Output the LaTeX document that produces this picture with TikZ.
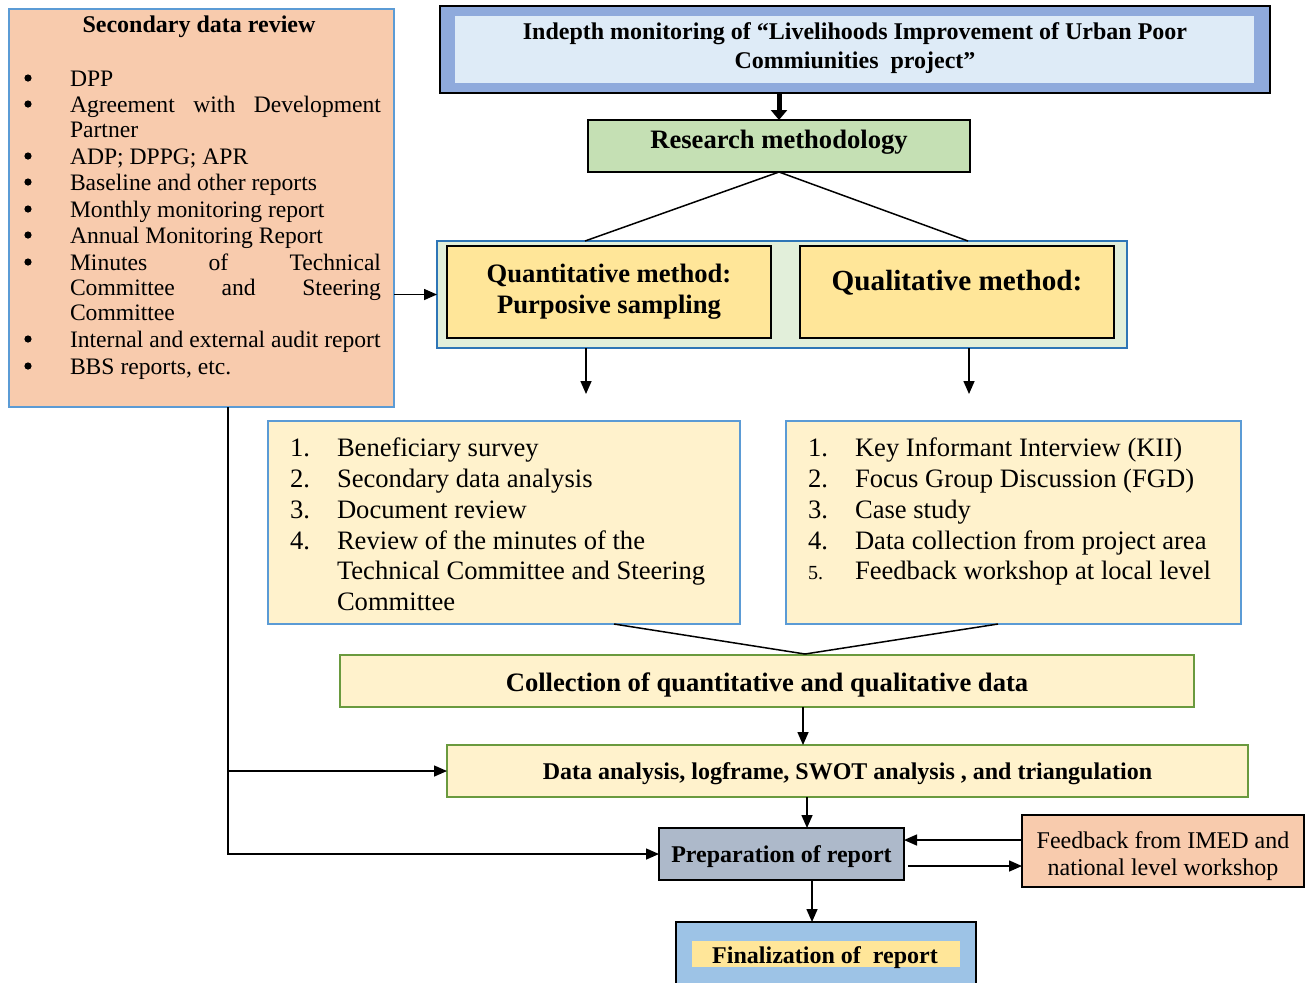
\documentclass[tikz,border=0pt]{standalone}
\usepackage{fontspec}
\setmainfont{Liberation Serif}
\usetikzlibrary{arrows.meta}
\definecolor{peach}{HTML}{F8CBAD}
\definecolor{bordblue}{HTML}{5B9BD5}
\definecolor{topblue}{HTML}{8FAADC}
\definecolor{toplight}{HTML}{DEEBF7}
\definecolor{resgreen}{HTML}{C5E0B4}
\definecolor{contgreen}{HTML}{E2EFDA}
\definecolor{contblue}{HTML}{2E75B6}
\definecolor{goldy}{HTML}{FFE699}
\definecolor{lighty}{HTML}{FFF2CC}
\definecolor{olivebord}{HTML}{6A9A3E}
\definecolor{prepgray}{HTML}{ADB9CA}
\definecolor{finblue}{HTML}{9DC3E6}
\newcommand\fsBody{\fontsize{11.8pt}{13.25pt}\selectfont}
\newcommand\fsHead{\fontsize{12pt}{14.5pt}\selectfont}
\newcommand\fsBig{\fontsize{13.3pt}{15.5pt}\selectfont}
\newcommand\fsQual{\fontsize{14.6pt}{17pt}\selectfont}
\newcommand\fsList{\fontsize{13.3pt}{15.5pt}\selectfont}
\begin{document}
\begin{tikzpicture}[x=0.5pt,y=-0.5pt,
  every node/.style={inner sep=0pt,outer sep=0pt},
  arr/.style={-{Triangle[length=6.5pt,width=5.5pt]},line width=0.75pt},
  ln/.style={line width=0.75pt},
  txt/.style={anchor=base west,font=\fsBody},
  bul/.style={circle,fill=black,minimum size=3.6pt},
  lst/.style={anchor=base west,font=\fsList},
  hd/.style={anchor=base,font=\fsHead\bfseries},
  bk/.style={draw=black,line width=0.9pt},
  ybox/.style={draw=olivebord,line width=1pt,fill=lighty},
  lbox/.style={draw=bordblue,line width=1pt,fill=lighty}]
\clip (0,0) rectangle (1310,982);

% ---------- left box ----------
\node[draw=bordblue,line width=1pt,fill=peach,minimum width=192.5pt,minimum height=199pt] (sdr) at (201.5,208) {};
\node[hd] (sdrt) at (199,32) {Secondary data review};
\node[txt] (l1) at (70,86) {DPP};
\node[txt] (l2) at (70,112) {\makebox[155.5pt][s]{Agreement\hfill with\hfill Development}};
\node[txt] (l3) at (70,137) {Partner};
\node[txt] (l4) at (70,164) {ADP; DPPG; APR};
\node[txt] (l5) at (70,190) {Baseline and other reports};
\node[txt] (l6) at (70,217) {Monthly monitoring report};
\node[txt] (l7) at (70,243) {Annual Monitoring Report};
\node[txt] (l8) at (70,270) {\makebox[155.5pt][s]{Minutes\hfill of\hfill Technical}};
\node[txt] (l9) at (70,295) {\makebox[155.5pt][s]{Committee\hfill and\hfill Steering}};
\node[txt] (l10) at (70,320) {Committee};
\node[txt] (l11) at (70,347) {Internal and external audit report};
\node[txt] (l12) at (70,374) {BBS reports, etc.};
\foreach \yy/\nm in {78/b1,104/b2,156/b4,182/b5,209/b6,235/b7,262/b8,339/b11,366/b12}
  \node[bul] (\nm) at (28,\yy) {};

% ---------- top box ----------
\node[bk,fill=topblue,minimum width=415pt,minimum height=43.5pt] (top) at (855,49.5) {};
\node[fill=toplight,minimum width=399.5pt,minimum height=33.5pt] (topin) at (854.5,49.5) {};
\node[hd] (topt1) at (855,39) {Indepth monitoring of “Livelihoods Improvement of Urban Poor};
\node[hd] (topt2) at (855,68) {Commiunities\ \ project”};

% ---------- research ----------
\node[bk,fill=resgreen,minimum width=191pt,minimum height=26pt] (res) at (779,146) {};
\node[anchor=base,font=\fsBig\bfseries] (rest) at (779,148) {Research methodology};

% ---------- methods ----------
\node[draw=contblue,line width=0.8pt,fill=contgreen,minimum width=345pt,minimum height=53.5pt] (cont) at (782,294.5) {};
\node[bk,fill=goldy,minimum width=162pt,minimum height=46pt] (quant) at (609,292) {};
\node[bk,fill=goldy,minimum width=157pt,minimum height=46pt] (qual) at (957,292) {};
\node[anchor=base,font=\fsBig\bfseries] (quantt1) at (609,282) {Quantitative method:};
\node[anchor=base,font=\fsBig\bfseries] (quantt2) at (609,313) {Purposive sampling};
\node[anchor=base,font=\fsQual\bfseries] (qualt) at (957,290) {Qualitative method:};

% ---------- lists ----------
\node[lbox,minimum width=236pt,minimum height=101.5pt] (qnl) at (504,522.5) {};
\node[lbox,minimum width=227.5pt,minimum height=101.5pt] (qll) at (1013.5,522.5) {};
\node[lst] (qn1n) at (290,456) {1.};
\node[lst] (qn1) at (337,456) {Beneficiary survey};
\node[lst] (qn2n) at (290,487) {2.};
\node[lst] (qn2) at (337,487) {Secondary data analysis};
\node[lst] (qn3n) at (290,518) {3.};
\node[lst] (qn3) at (337,518) {Document review};
\node[lst] (qn4n) at (290,549) {4.};
\node[lst] (qn4) at (337,549) {Review of the minutes of the};
\node[lst] (qn5) at (337,579) {Technical Committee and Steering};
\node[lst] (qn6) at (337,610) {Committee};
\node[lst] (ql1n) at (808,456) {1.};
\node[lst] (ql1) at (855,456) {Key Informant Interview (KII)};
\node[lst] (ql2n) at (808,487) {2.};
\node[lst] (ql2) at (855,487) {Focus Group Discussion (FGD)};
\node[lst] (ql3n) at (808,518) {3.};
\node[lst] (ql3) at (855,518) {Case study};
\node[lst] (ql4n) at (808,549) {4.};
\node[lst] (ql4) at (855,549) {Data collection from project area};
\node[anchor=base west,font=\fontsize{10pt}{12pt}\selectfont] (ql5n) at (808,579) {5.};
\node[lst] (ql5) at (855,579) {Feedback workshop at local level};

% ---------- collection / analysis ----------
\node[ybox,minimum width=427pt,minimum height=26pt] (coll) at (767,681) {};
\node[anchor=base,font=\fsBig\bfseries] (collt) at (767,691) {Collection of quantitative and qualitative data};
\node[ybox,minimum width=400.5pt,minimum height=26pt] (ana) at (847.5,771) {};
\node[hd] (anat) at (847.5,779) {Data analysis, logframe, SWOT analysis , and triangulation};

% ---------- preparation / feedback / final ----------
\node[bk,fill=prepgray,minimum width=122.5pt,minimum height=26pt] (prep) at (781.5,854) {};
\node[hd] (prept) at (781.5,862) {Preparation of report};
\node[bk,fill=peach,minimum width=141pt,minimum height=36pt] (fb) at (1163,851) {};
\node[anchor=base,font=\fsHead] (fbt1) at (1163,848) {Feedback from IMED and};
\node[anchor=base,font=\fsHead] (fbt2) at (1163,875) {national level workshop};
\node[bk,fill=finblue,minimum width=150pt,minimum height=40pt] (fin) at (826,962) {};
\node[fill=goldy,minimum width=134pt,minimum height=13pt] (finin) at (826,954) {};
\node[hd] (fint) at (825,963) {Finalization of\ \ report};

% ---------- connectors ----------
\draw[line width=2.5pt,-{Triangle[length=5pt,width=8pt]}] (top.south -| res.north) -- (res.north);
\coordinate (qa) at (585,241);
\coordinate (qb) at (968,241);
\draw[ln] (qa) -- (res.south) -- (qb);
\coordinate (da) at (586,394);
\coordinate (db) at (969,394);
\draw[arr] (cont.south -| da) -- (da);
\draw[arr] (cont.south -| db) -- (db);
\draw[arr] (sdr.east |- cont.west) -- (cont.west);
\coordinate (ca) at (614,624);
\coordinate (cb) at (998,624);
\coordinate (cm) at (805,654);
\draw[ln] (ca) -- (cm) -- (cb);
\coordinate (c1) at (803,707);
\draw[arr] (c1) -- (c1 |- ana.north);
\coordinate (p1) at ([xshift=12.75pt]prep.north);
\draw[arr] (p1 |- ana.south) -- (p1);
\coordinate (p2) at ([xshift=15.25pt]prep.south);
\draw[arr] (p2) -- (p2 |- fin.north);
\coordinate (f1) at ([yshift=5.5pt]fb.west);
\draw[arr] (f1) -- (f1 -| prep.east);
\coordinate (f2) at ([yshift=-7.5pt]fb.west);
\path (f2 -| prep.east) ++(4,0) coordinate (f3);
\draw[arr] (f3) -- (f2);
\coordinate (lt) at (228,407);
\draw[arr] (lt) -- (lt |- prep.west) -- (prep.west);
\draw[arr] (lt |- ana.west) -- (ana.west);
\end{tikzpicture}
\end{document}
